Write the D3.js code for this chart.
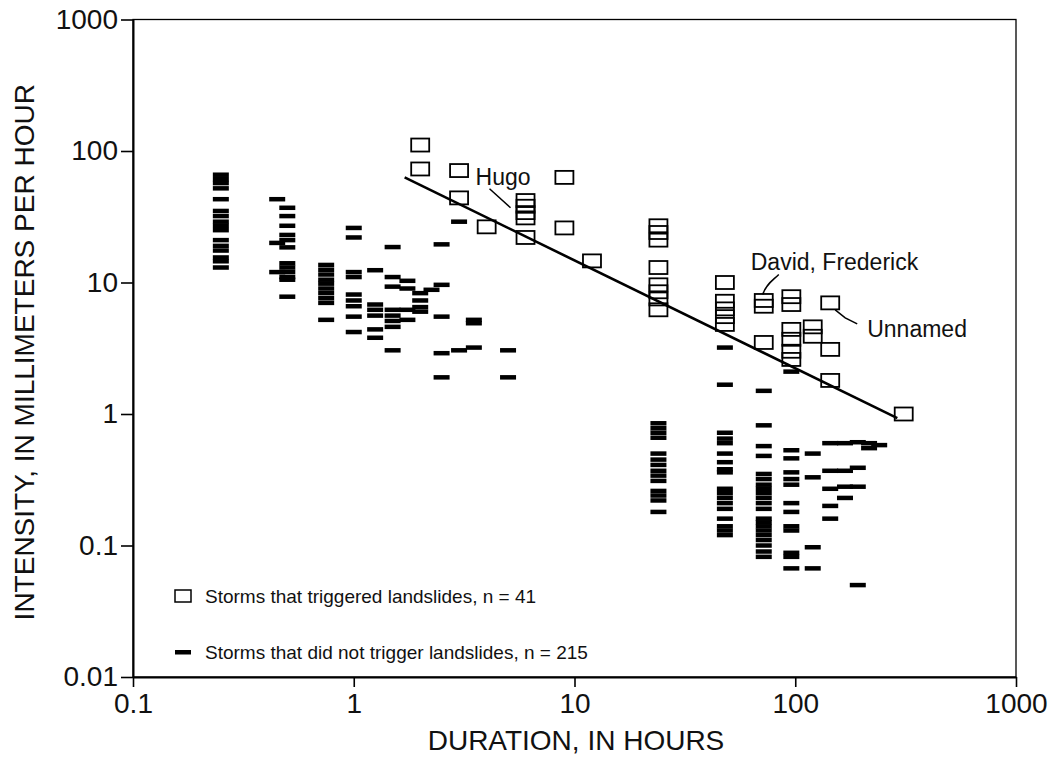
<!DOCTYPE html>
<html>
<head>
<meta charset="utf-8">
<script src="https://cdn.jsdelivr.net/npm/d3@7"></script>
<style>
  html, body { margin: 0; padding: 0; background: #fff; }
  svg { display: block; }
  text { font-family: "Liberation Sans", Arial, Helvetica, sans-serif; fill: #111; }
</style>
</head>
<body>
<svg id="chart" width="1057" height="758"></svg>
<script>
// ---------------- DATA ----------------
const xTickLabels = ["0.1", "1", "10", "100", "1000"];
const xTickValues = [0.1, 1, 10, 100, 1000];
const yTickLabels = ["0.01", "0.1", "1", "10", "100", "1000"];
const yTickValues = [0.01, 0.1, 1, 10, 100, 1000];

// Storms that triggered landslides (open squares): duration (h), intensity (mm/h)
const slideDuration  = [2, 2, 3, 3, 4, 6, 6, 6, 6, 6, 9, 9, 12,
                         24, 24, 24, 24, 24, 24, 24, 24,
                         48, 48, 48, 48, 48,
                         72, 72, 72,
                         96, 96, 96, 96, 96, 96,
                         120, 120,
                         144, 144, 144,
                         310];
const slideIntensity = [111, 73, 71, 44, 26.5, 42, 38, 34, 31, 22, 63, 26, 14.6,
                        27, 24, 21, 13, 9.6, 8.5, 7.5, 6.2,
                        10, 7.2, 6.3, 5.5, 4.8,
                        7.3, 6.6, 3.5,
                        7.8, 6.8, 4.4, 3.7, 3.0, 2.6,
                        4.6, 3.9,
                        7.0, 3.1, 1.8,
                        1.0];

// Storms that did not trigger landslides (filled dashes), grouped by duration
const noSlideDuration = [0.25, 0.45, 0.5, 0.75, 1, 1.25, 1.5, 1.75, 2, 2.25, 2.5, 3, 3.5, 5,
                         24, 48, 72, 96, 120, 144, 168, 192, 216, 240];
const noSlideIntensity = [
  [66, 61, 57, 52, 43, 35, 32, 29, 27, 25, 21, 19, 17.5, 15.5, 14.5, 13],
  [43, 20, 12],
  [37, 32, 27, 23, 21, 18.5, 14, 13, 12, 11, 10.5, 7.8],
  [13.6, 12.5, 11.5, 10.5, 9.8, 9, 8.3, 7.6, 7, 5.2],
  [26, 22, 12, 11, 8.1, 7.3, 6.6, 5.5, 4.2],
  [12.4, 6.8, 6.2, 5.6, 4.4, 3.8],
  [18.6, 11, 9.3, 6.2, 5.6, 5.1, 4.6, 3.05],
  [10.3, 9, 6.2, 5.2],
  [8.3, 7.3, 6.5, 6],
  [8.8],
  [19.5, 9.6, 5.5, 2.9, 1.9],
  [29, 3.05],
  [5.2, 4.9, 3.2],
  [3.05, 1.9],
  [0.85, 0.78, 0.72, 0.66, 0.5, 0.45, 0.41, 0.37, 0.34, 0.31, 0.26, 0.24, 0.22, 0.18],
  [3.2, 1.67, 0.72, 0.65, 0.6, 0.5, 0.43, 0.38, 0.36, 0.27, 0.25, 0.23, 0.21, 0.19, 0.16, 0.14, 0.13, 0.12],
  [1.5, 0.82, 0.57, 0.48, 0.35, 0.32, 0.29, 0.27, 0.25, 0.23, 0.21, 0.19, 0.16, 0.15, 0.14, 0.13, 0.12, 0.11, 0.1, 0.09, 0.082],
  [2.1, 0.53, 0.46, 0.36, 0.32, 0.29, 0.21, 0.18, 0.14, 0.13, 0.088, 0.082, 0.067],
  [0.5, 0.33, 0.097, 0.067],
  [0.6, 0.37, 0.27, 0.2, 0.16],
  [0.6, 0.37, 0.28, 0.23],
  [0.61, 0.39, 0.28, 0.05],
  [0.6, 0.55],
  [0.58]
];

// Threshold line endpoints
const lineDuration  = [1.7, 290];
const lineIntensity = [63, 0.93];

const annotations = [
  { text: "Hugo", d: 6, i: 39 },
  { text: "David, Frederick", d: 72, i: 7.3 },
  { text: "Unnamed", d: 144, i: 7.0 }
];

const legendLabels = ["Storms that triggered landslides, n = 41",
                      "Storms that did not trigger landslides, n = 215"];
const xTitle = "DURATION, IN HOURS";
const yTitle = "INTENSITY, IN MILLIMETERS PER HOUR";

// ---------------- CHART ----------------
const svg = d3.select("#chart");
const L = 133, R = 1016, T = 19.5, B = 677;

const x = d3.scaleLog().domain([0.1, 1000]).range([L, R]);
const y = d3.scaleLog().domain([0.01, 1000]).range([B, T]);

function minorTicks(lo, hi) {
  const out = [];
  for (let e = Math.log10(lo); e < Math.log10(hi); e++) {
    for (let k = 2; k <= 9; k++) out.push(k * Math.pow(10, e));
  }
  return out;
}

// frame
svg.append("rect").attr("x", L).attr("y", T).attr("width", R - L).attr("height", B - T)
  .attr("fill", "none").attr("stroke", "#000").attr("stroke-width", 1.3);

// x axis
const gx = svg.append("g").attr("transform", `translate(0,${B})`);
gx.call(d3.axisBottom(x).tickValues(minorTicks(0.1, 1000)).tickFormat("").tickSizeInner(8).tickSizeOuter(0));
gx.call(d3.axisBottom(x).tickValues(xTickValues).tickFormat((d, i) => xTickLabels[i]).tickSizeInner(10).tickSizeOuter(0).tickPadding(6));
gx.selectAll(".domain").attr("stroke", "#000").attr("stroke-width", 2);
gx.selectAll("line").attr("stroke", "#000").attr("stroke-width", 1.6);
gx.selectAll("text").attr("font-size", 28).attr("fill", "#111");

// y axis
const gy = svg.append("g").attr("transform", `translate(${L},0)`);
gy.call(d3.axisLeft(y).tickValues(minorTicks(0.01, 1000)).tickFormat("").tickSizeInner(8).tickSizeOuter(0));
gy.call(d3.axisLeft(y).tickValues(yTickValues).tickFormat((d, i) => yTickLabels[i]).tickSizeInner(12).tickSizeOuter(0).tickPadding(3));
gy.selectAll(".domain").attr("stroke", "#000").attr("stroke-width", 2);
gy.selectAll("line").attr("stroke", "#000").attr("stroke-width", 1.6);
gy.selectAll("text").attr("font-size", 28).attr("fill", "#111");

// axis titles
svg.append("text").attr("x", 576).attr("y", 750).attr("text-anchor", "middle")
  .attr("font-size", 28).text(xTitle);
svg.append("text").attr("transform", `translate(34,${(T + B) / 2 + 4}) rotate(-90)`)
  .attr("text-anchor", "middle").attr("font-size", 28).text(yTitle);

// threshold line
svg.append("line")
  .attr("x1", x(lineDuration[0])).attr("y1", y(lineIntensity[0]))
  .attr("x2", x(lineDuration[1])).attr("y2", y(lineIntensity[1]))
  .attr("stroke", "#000").attr("stroke-width", 2.6);

// non-landslide dashes
const dashW = 16, dashH = 4.5;
const dashData = [];
noSlideDuration.forEach((d, k) => noSlideIntensity[k].forEach(v => dashData.push({ d, v })));
svg.append("g").selectAll("rect").data(dashData).join("rect")
  .attr("x", p => x(p.d) - dashW / 2).attr("y", p => y(p.v) - dashH / 2)
  .attr("width", dashW).attr("height", dashH).attr("fill", "#000");

// landslide squares
const sqW = 18, sqH = 13;
svg.append("g").selectAll("rect").data(slideDuration.map((d, k) => ({ d, v: slideIntensity[k] }))).join("rect")
  .attr("x", p => x(p.d) - sqW / 2).attr("y", p => y(p.v) - sqH / 2)
  .attr("width", sqW).attr("height", sqH)
  .attr("fill", "none").attr("stroke", "#000").attr("stroke-width", 1.8);

// annotations
const ann = svg.append("g").attr("font-size", 23);
// Hugo
ann.append("text").attr("x", x(annotations[0].d) - 50).attr("y", y(annotations[0].i) - 20).text(annotations[0].text);
ann.append("line").attr("x1", x(annotations[0].d) - 36).attr("y1", y(annotations[0].i) - 16)
  .attr("x2", x(annotations[0].d) - 15).attr("y2", y(annotations[0].i) + 3)
  .attr("stroke", "#000").attr("stroke-width", 1.5);
// David, Frederick
ann.append("text").attr("x", x(annotations[1].d) - 13).attr("y", y(annotations[1].i) - 30).text(annotations[1].text);
ann.append("path")
  .attr("d", `M${x(annotations[1].d) + 15},${y(annotations[1].i) - 26} C${x(annotations[1].d) + 9},${y(annotations[1].i) - 20} ${x(annotations[1].d) + 2},${y(annotations[1].i) - 16} ${x(annotations[1].d) - 1},${y(annotations[1].i) - 6}`)
  .attr("fill", "none").attr("stroke", "#000").attr("stroke-width", 1.5);
// Unnamed
ann.append("text").attr("x", x(annotations[2].d) + 37).attr("y", y(annotations[2].i) + 34).text(annotations[2].text);
ann.append("path")
  .attr("d", `M${x(annotations[2].d) + 5},${y(annotations[2].i) + 7} L${x(annotations[2].d) + 15},${y(annotations[2].i) + 15} L${x(annotations[2].d) + 27},${y(annotations[2].i) + 21}`)
  .attr("fill", "none").attr("stroke", "#000").attr("stroke-width", 1.5);

// legend
const lg = svg.append("g");
lg.append("rect").attr("x", 175).attr("y", 590).attr("width", 16).attr("height", 12)
  .attr("fill", "none").attr("stroke", "#000").attr("stroke-width", 1.5);
lg.append("text").attr("x", 205).attr("y", 603).attr("font-size", 19).text(legendLabels[0]);
lg.append("rect").attr("x", 175).attr("y", 650).attr("width", 16).attr("height", 4.5).attr("fill", "#000");
lg.append("text").attr("x", 205).attr("y", 659).attr("font-size", 19).text(legendLabels[1]);
</script>
</body>
</html>
